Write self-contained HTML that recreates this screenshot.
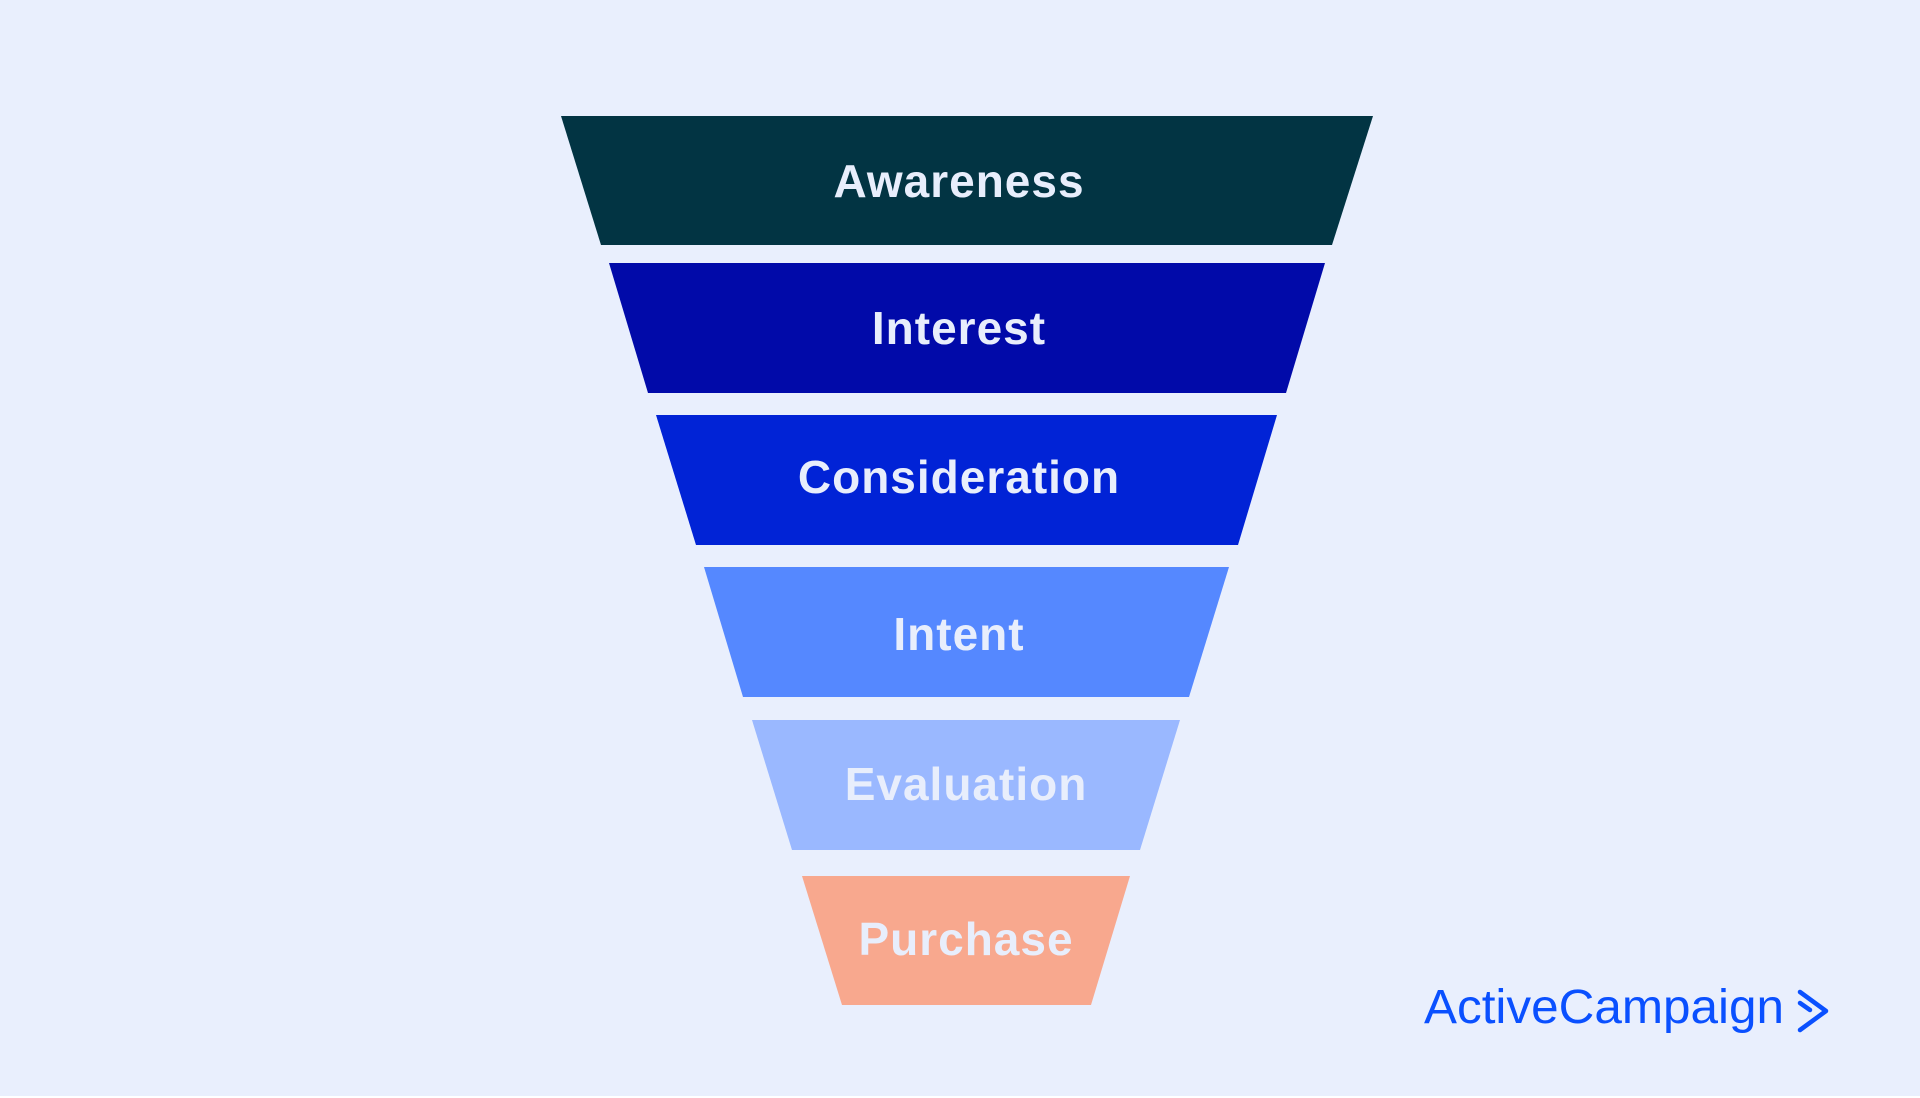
<!DOCTYPE html>
<html><head><style>
html,body{margin:0;padding:0;}
body{width:1920px;height:1098px;background:#e9effd;position:relative;overflow:hidden;font-family:"Liberation Sans",sans-serif;}
svg{position:absolute;left:0;top:0;}
</style></head><body>
<svg width="1920" height="1098" viewBox="0 0 1920 1098">
<rect x="0" y="1096" width="1920" height="2" fill="#ffffff"/>
<polygon points="561,116 1373,116 1332,245 601,245" fill="#023443"/>
<polygon points="609,263 1325,263 1286,393 648,393" fill="#010aa9"/>
<polygon points="656,415 1277,415 1238,545 696,545" fill="#0123d6"/>
<polygon points="704,567 1229,567 1189,697 743,697" fill="#5588ff"/>
<polygon points="752,720 1180,720 1140,850 792,850" fill="#9ab8ff"/>
<polygon points="802,876 1130,876 1091,1005 842,1005" fill="#f8a88e"/>
<g font-family="Liberation Sans, sans-serif" font-weight="bold" font-size="46" fill="#e8eefc" text-anchor="middle" letter-spacing="1">
<text x="959" y="197">Awareness</text>
<text x="959" y="344">Interest</text>
<text x="959" y="493">Consideration</text>
<text x="959" y="650">Intent</text>
<text x="966" y="800">Evaluation</text>
<text x="966" y="955">Purchase</text>
</g>
<text x="1424" y="1023" font-family="Liberation Sans, sans-serif" font-size="48" fill="#0a50ff" textLength="360" lengthAdjust="spacingAndGlyphs">ActiveCampaign</text>
<path d="M1800,992 L1826,1011 L1800,1030" fill="none" stroke="#0a50ff" stroke-width="4.5" stroke-linejoin="round" stroke-linecap="round"/>
<path d="M1800,1003 L1810,1010" fill="none" stroke="#0a50ff" stroke-width="4.5" stroke-linecap="round"/>
</svg>
</body></html>
